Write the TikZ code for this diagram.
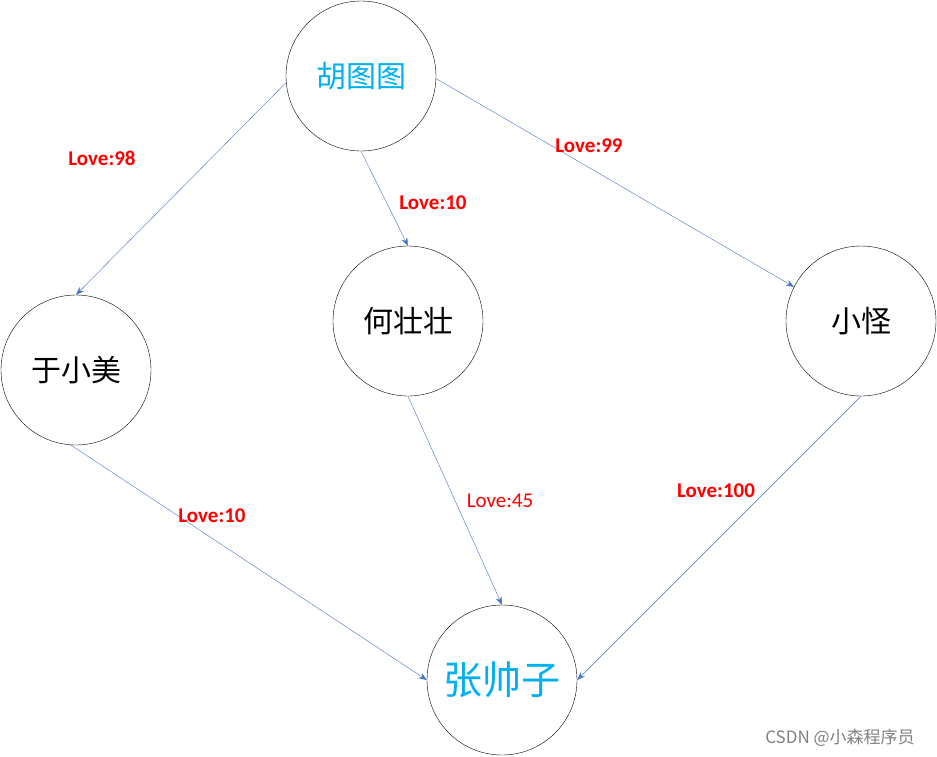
\documentclass[tikz,border=0pt]{standalone}
\usepackage{fontspec}
\setmainfont{Carlito}
\newfontfamily\cjk{Noto Sans CJK SC}
\usetikzlibrary{arrows.meta}
\definecolor{edgeblue}{RGB}{68,114,196}
\definecolor{namecyan}{RGB}{0,176,240}
\tikzset{
  person/.style={circle, draw=black, minimum size=150pt, inner sep=0pt, font=\cjk\fontsize{30}{32}\selectfont},
  love/.style={text=red, font=\bfseries\fontsize{21}{23}\selectfont},
}
\begin{document}
\begin{tikzpicture}[x=1pt, y=-1pt, ->, >={Stealth[length=8pt,width=6pt]}, edgeblue]

    \useasboundingbox (0,0) rectangle (937,756);

    \node[person, text=namecyan] (hu) at (361, 76) {胡图图};
    \node[person, text=black] (yu) at (76, 370) {于小美};
    \node[person, text=black] (he) at (408, 321) {何壮壮};
    \node[person, text=black] (xg) at (861, 321) {小怪};
    \node[person, text=namecyan, font=\cjk\fontsize{39}{41}\selectfont] (zh) at (502, 680) {张帅子};

    \draw (hu.185) -- (yu.90) node[love] at (102, 158) {Love:98};
    \draw (hu.270) -- (he.90) node[love] at (433, 203) {Love:10};
    \draw (hu.358) -- (xg.153) node[love] at (589, 146) {Love:99};
    \draw (yu.266) -- (zh.180) node[love] at (212, 516) {Love:10};
    \draw (he.270) -- (zh.90) node[love, font=\fontsize{21}{23}\selectfont] at (500, 501) {Love:45};
    \draw (xg.270) -- (zh.0) node[love] at (716, 491) {Love:100};

    \node[text=gray, font=\cjk\fontsize{17}{19}\selectfont] (mark) at (840, 738) {CSDN @小森程序员};

\end{tikzpicture}
\end{document}
